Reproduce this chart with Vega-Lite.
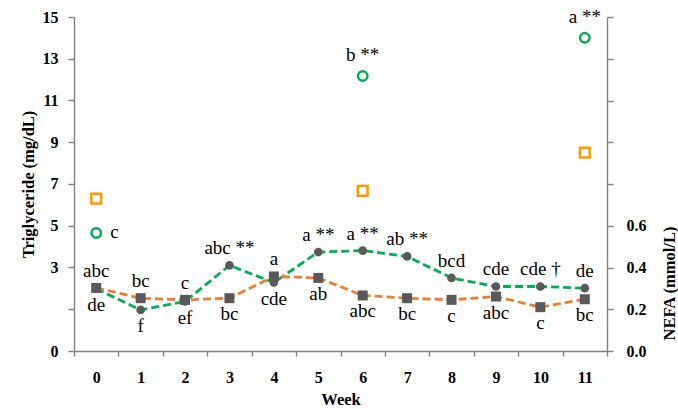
{
  "$schema": "https://vega.github.io/schema/vega-lite/v6.json",
  "width": 533,
  "height": 334,
  "autosize": "none",
  "padding": {"left": 74, "top": 17, "right": 71, "bottom": 58},
  "config": {
    "view": {"stroke": null},
    "font": "Liberation Serif",
    "axis": {
      "domainColor": "#808080",
      "tickColor": "#808080",
      "domainWidth": 1.4,
      "tickWidth": 1.4,
      "grid": false,
      "labelFont": "Liberation Serif",
      "labelFontWeight": "bold",
      "labelFontSize": 16,
      "labelColor": "#000000",
      "titleFont": "Liberation Serif",
      "titleFontWeight": "bold",
      "titleFontSize": 16.5,
      "titleColor": "#000000"
    }
  },
  "data": {
    "values": [
      {"week": 0, "measure": "NEFA", "group": "A", "value": 0.298, "letters": "de"},
      {"week": 1, "measure": "NEFA", "group": "A", "value": 0.197, "letters": "f"},
      {"week": 2, "measure": "NEFA", "group": "A", "value": 0.237, "letters": "ef"},
      {"week": 3, "measure": "NEFA", "group": "A", "value": 0.41, "letters": "abc **"},
      {"week": 4, "measure": "NEFA", "group": "A", "value": 0.328, "letters": "cde"},
      {"week": 5, "measure": "NEFA", "group": "A", "value": 0.474, "letters": "a **"},
      {"week": 6, "measure": "NEFA", "group": "A", "value": 0.481, "letters": "a **"},
      {"week": 7, "measure": "NEFA", "group": "A", "value": 0.453, "letters": "ab **"},
      {"week": 8, "measure": "NEFA", "group": "A", "value": 0.35, "letters": "bcd"},
      {"week": 9, "measure": "NEFA", "group": "A", "value": 0.309, "letters": "cde"},
      {"week": 10, "measure": "NEFA", "group": "A", "value": 0.309, "letters": "cde †"},
      {"week": 11, "measure": "NEFA", "group": "A", "value": 0.301, "letters": "de"},
      {"week": 0, "measure": "NEFA", "group": "B", "value": 0.302, "letters": "abc"},
      {"week": 1, "measure": "NEFA", "group": "B", "value": 0.253, "letters": "bc"},
      {"week": 2, "measure": "NEFA", "group": "B", "value": 0.245, "letters": "c"},
      {"week": 3, "measure": "NEFA", "group": "B", "value": 0.253, "letters": "bc"},
      {"week": 4, "measure": "NEFA", "group": "B", "value": 0.357, "letters": "a"},
      {"week": 5, "measure": "NEFA", "group": "B", "value": 0.35, "letters": "ab"},
      {"week": 6, "measure": "NEFA", "group": "B", "value": 0.266, "letters": "abc"},
      {"week": 7, "measure": "NEFA", "group": "B", "value": 0.253, "letters": "bc"},
      {"week": 8, "measure": "NEFA", "group": "B", "value": 0.245, "letters": "c"},
      {"week": 9, "measure": "NEFA", "group": "B", "value": 0.261, "letters": "abc"},
      {"week": 10, "measure": "NEFA", "group": "B", "value": 0.21, "letters": "c"},
      {"week": 11, "measure": "NEFA", "group": "B", "value": 0.248, "letters": "bc"},
      {"week": 0, "measure": "TG", "group": "A", "value": 4.65, "letters": "c"},
      {"week": 6, "measure": "TG", "group": "A", "value": 12.17, "letters": "b **"},
      {"week": 11, "measure": "TG", "group": "A", "value": 14.0, "letters": "a **"},
      {"week": 0, "measure": "TG", "group": "B", "value": 6.3, "letters": ""},
      {"week": 6, "measure": "TG", "group": "B", "value": 6.67, "letters": ""},
      {"week": 11, "measure": "TG", "group": "B", "value": 8.5, "letters": ""}
    ]
  },
  "encoding": {
    "x": {
      "field": "week",
      "type": "ordinal",
      "scale": {"domain": [0, 1, 2, 3, 4, 5, 6, 7, 8, 9, 10, 11], "paddingInner": 0, "paddingOuter": 0},
      "axis": {
        "title": "Week",
        "tickBand": "extent",
        "labelAngle": 0,
        "tickSize": 5,
        "labelPadding": 13,
        "titlePadding": 6
      }
    }
  },
  "layer": [
    {
      "transform": [{"filter": "datum.measure == 'TG'"}],
      "encoding": {
        "y": {
          "field": "value",
          "type": "quantitative",
          "scale": {"domain": [0, 3, 15], "range": [334, 250.4, 0], "nice": false, "zero": false},
          "axis": {
            "orient": "left",
            "title": "Triglyceride (mg/dL)",
            "values": [0, 1.5, 3, 5, 7, 9, 11, 13, 15],
            "labelExpr": "datum.value == 1.5 ? '' : datum.label",
            "tickSize": 6,
            "labelPadding": 10,
            "titlePadding": 6
          }
        }
      },
      "layer": [
        {
          "transform": [{"filter": "datum.group == 'B'"}],
          "mark": {"type": "point", "shape": "square", "filled": false, "stroke": "#FF9900", "strokeWidth": 2.5, "size": 95, "opacity": 1}
        },
        {
          "transform": [{"filter": "datum.group == 'A'"}],
          "mark": {"type": "point", "shape": "circle", "filled": false, "stroke": "#00B050", "strokeWidth": 2.5, "size": 90, "opacity": 1}
        },
        {
          "transform": [{"filter": "datum.group == 'A' && datum.week != 0"}],
          "mark": {"type": "text", "font": "Liberation Serif", "fontSize": 19, "color": "#000000", "align": "center", "baseline": "alphabetic", "dy": -15},
          "encoding": {"text": {"field": "letters"}}
        },
        {
          "transform": [{"filter": "datum.group == 'A' && datum.week == 0"}],
          "mark": {"type": "text", "font": "Liberation Serif", "fontSize": 19, "color": "#000000", "align": "left", "baseline": "middle", "dx": 14, "dy": -1},
          "encoding": {"text": {"field": "letters"}}
        }
      ]
    },
    {
      "transform": [{"filter": "datum.measure == 'NEFA'"}],
      "encoding": {
        "y": {
          "field": "value",
          "type": "quantitative",
          "scale": {"domain": [0, 1.6], "nice": false, "zero": true},
          "axis": {
            "orient": "right",
            "title": "NEFA (mmol/L)",
            "values": [0, 0.2, 0.4, 0.6, 0.8, 1.0, 1.2, 1.4, 1.6],
            "labelExpr": "datum.value < 0.7 ? format(datum.value, '.1f') : ''",
            "tickSize": 6,
            "labelPadding": 13,
            "titleAngle": 270,
            "titleAlign": "center",
            "titleBaseline": "alphabetic",
            "titleX": 67,
            "titleY": 266
          }
        }
      },
      "layer": [
        {
          "transform": [{"filter": "datum.group == 'A'"}],
          "mark": {"type": "line", "color": "#00B050", "strokeWidth": 2.8, "strokeDash": [8, 4]}
        },
        {
          "transform": [{"filter": "datum.group == 'B'"}],
          "mark": {"type": "line", "color": "#ED7D31", "strokeWidth": 2.8, "strokeDash": [8, 4]}
        },
        {
          "transform": [{"filter": "datum.group == 'A'"}],
          "mark": {"type": "point", "shape": "circle", "filled": true, "color": "#595959", "size": 75, "opacity": 1}
        },
        {
          "transform": [{"filter": "datum.group == 'B'"}],
          "mark": {"type": "point", "shape": "square", "filled": true, "color": "#595959", "size": 100, "opacity": 1}
        },
        {
          "transform": [
            {"joinaggregate": [{"op": "max", "field": "value", "as": "maxv"}], "groupby": ["week"]},
            {"filter": "datum.value == datum.maxv"}
          ],
          "mark": {"type": "text", "font": "Liberation Serif", "fontSize": 19, "color": "#000000", "align": "center", "baseline": "alphabetic", "dy": -11},
          "encoding": {"text": {"field": "letters"}}
        },
        {
          "transform": [
            {"joinaggregate": [{"op": "max", "field": "value", "as": "maxv"}], "groupby": ["week"]},
            {"filter": "datum.value < datum.maxv"}
          ],
          "mark": {"type": "text", "font": "Liberation Serif", "fontSize": 19, "color": "#000000", "align": "center", "baseline": "alphabetic", "dy": 22},
          "encoding": {"text": {"field": "letters"}}
        }
      ]
    }
  ],
  "resolve": {"scale": {"y": "independent"}, "axis": {"y": "independent"}}
}
